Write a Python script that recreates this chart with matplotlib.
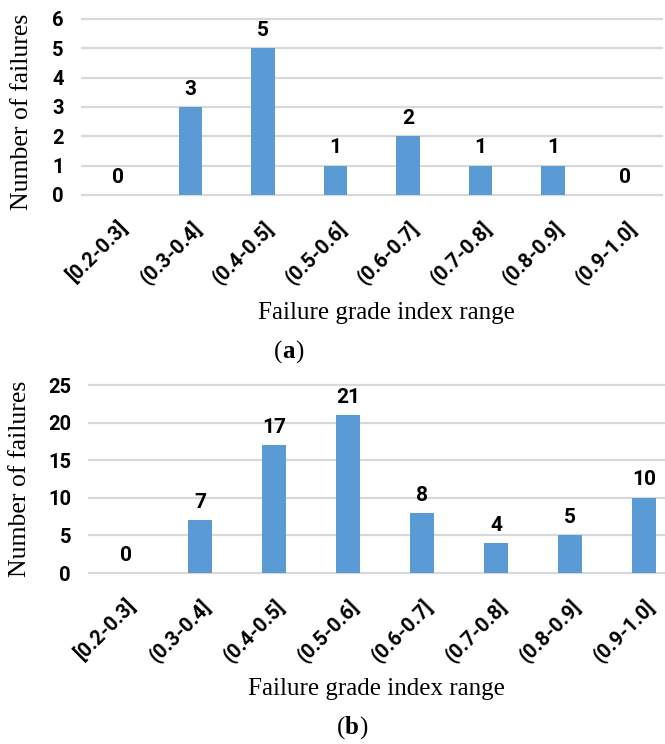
import numpy as np
import matplotlib.pyplot as plt

categories = ["[0.2-0.3]", "(0.3-0.4]", "(0.4-0.5]", "(0.5-0.6]",
              "(0.6-0.7]", "(0.7-0.8]", "(0.8-0.9]", "(0.9-1.0]"]
failures_a = [0, 3, 5, 1, 2, 1, 1, 0]
failures_b = [0, 7, 17, 21, 8, 4, 5, 10]
yticks_a = [0, 1, 2, 3, 4, 5, 6]
yticks_b = [0, 5, 10, 15, 20, 25]

bar_color = "#5b9bd5"
grid_color = "#d9d9d9"
num_font = ["Roboto", "DejaVu Sans"]
serif_font = ["Liberation Serif", "DejaVu Serif"]


def draw_panel(ax, values, yticks):
    x = np.arange(len(categories))
    bars = ax.bar(x, values, width=0.32, color=bar_color, zorder=3)
    ax.bar_label(bars, padding=6, fontsize=15, fontweight="bold", family=num_font)
    ax.set_xlim(-0.5, len(categories) - 0.5)
    ax.set_ylim(yticks[0], yticks[-1])
    ax.set_yticks(yticks)
    for t in yticks:
        ax.axhline(t, color=grid_color, lw=1.6, zorder=1, clip_on=False)
    ax.set_xticks(x)
    ax.set_xticklabels(categories, rotation=45, ha="right", rotation_mode="anchor",
                       fontsize=14.5, fontweight="bold", family=num_font)
    for lab in ax.get_yticklabels():
        lab.set_fontsize(14.5)
        lab.set_fontweight("bold")
        lab.set_family(num_font)
    ax.tick_params(length=0)
    ax.tick_params(axis="x", pad=16)
    ax.tick_params(axis="y", pad=13)
    for s in ax.spines.values():
        s.set_visible(False)
    ax.set_ylabel("Number of failures", fontsize=18.5, family=serif_font)
    ax.set_xlabel("Failure grade index range", fontsize=18, family=serif_font)


fig = plt.figure(figsize=(6.65, 7.44), dpi=100)
ax1 = fig.add_axes([0.123, 0.738, 0.872, 0.2365])
ax2 = fig.add_axes([0.134, 0.2298, 0.890, 0.2527])

draw_panel(ax1, failures_a, yticks_a)
draw_panel(ax2, failures_b, yticks_b)

ax1.yaxis.set_label_coords(-0.085, 0.47)
ax2.yaxis.set_label_coords(-0.098, 0.5)
ax1.xaxis.set_label_coords(0.525, -0.61)
ax2.xaxis.set_label_coords(0.485, -0.56)

ya = 1 - 352 / 744
yb = 1 - 728 / 744
fig.text(0.425, ya, "(", fontsize=18, family=serif_font, ha="right", va="center")
fig.text(0.425, ya, "a", fontsize=18, family=serif_font, fontweight="bold", ha="left", va="center")
fig.text(0.425 + 0.019, ya, ")", fontsize=18, family=serif_font, ha="left", va="center")
fig.text(0.519, yb, "(", fontsize=18, family=serif_font, ha="right", va="center")
fig.text(0.519, yb, "b", fontsize=18, family=serif_font, fontweight="bold", ha="left", va="center")
fig.text(0.519 + 0.0215, yb, ")", fontsize=18, family=serif_font, ha="left", va="center")

plt.savefig("out.png", dpi=100)
plt.close()
